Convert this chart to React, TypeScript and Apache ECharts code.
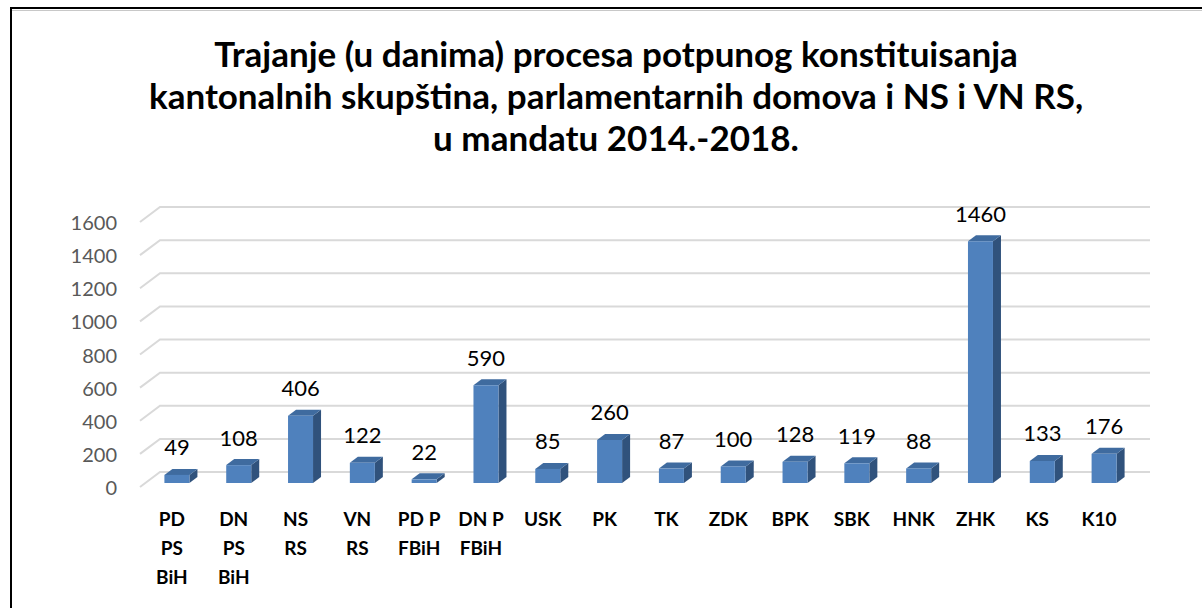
import React, { useEffect, useRef } from "react";
import * as echarts from "echarts";

const categories = [
  "PD\nPS\nBiH", "DN\nPS\nBiH", "NS\nRS", "VN\nRS", "PD P\nFBiH", "DN P\nFBiH",
  "USK", "PK", "TK", "ZDK", "BPK", "SBK", "HNK", "ZHK", "KS", "K10",
];
const values = [49, 108, 406, 122, 22, 590, 85, 260, 87, 100, 128, 119, 88, 1460, 133, 176];
const yTicks = [0, 200, 400, 600, 800, 1000, 1200, 1400, 1600];
const titleText =
  "Trajanje (u danima) procesa potpunog konstituisanja\nkantonalnih skupština, parlamentarnih domova i NS i VN RS,\nu mandatu 2014.-2018.";

const FONT = "Lato, 'Open Sans', sans-serif";

export default function App() {
  const ref = useRef<HTMLDivElement>(null);
  useEffect(() => {
    if (!ref.current) return;
    const chart = echarts.init(ref.current, null, { renderer: "svg" });
    const WALL_DX = 20, WALL_DY = -15;
    const option: any = {
      animation: false,
      backgroundColor: "#ffffff",
      textStyle: { fontFamily: FONT },
      title: {
        text: titleText,
        left: 611,
        top: 27,
        textAlign: "center",
        textStyle: { fontFamily: FONT, fontSize: 35, fontWeight: "bold", color: "#000", lineHeight: 42 },
      },
      graphic: [
        { type: "rect", shape: { x: 11, y: 8, width: 1250, height: 700 }, style: { fill: "none", stroke: "#000", lineWidth: 2 }, z: 100 },
        { type: "line", shape: { x1: 12, y1: 10.5, x2: 1202, y2: 10.5 }, style: { stroke: "#c8c8c8", lineWidth: 1 }, z: 100 },
      ],
      grid: { left: 141, right: 72, top: 222, bottom: 121, containLabel: false },
      xAxis: {
        type: "category",
        data: categories,
        axisLine: { show: false },
        axisTick: { show: false },
        axisLabel: {
          interval: 0,
          margin: 17,
          color: "#000",
          fontFamily: FONT,
          fontSize: 19,
          fontWeight: "bold",
          lineHeight: 29,
        },
      },
      yAxis: {
        type: "value",
        min: 0,
        max: 1600,
        interval: 200,
        axisLine: { show: false },
        axisTick: { show: false },
        splitLine: { show: false },
        axisLabel: {
          color: "#595959",
          fontFamily: FONT,
          fontSize: 20,
          margin: 24,
          formatter: (v: number) => String(v),
        },
      },
      series: [
        {
          type: "custom",
          silent: true,
          z: 1,
          data: yTicks.map((t) => [0, t]),
          encode: { x: 0, y: 1 },
          renderItem: (params: any, api: any) => {
            const cs = params.coordSys;
            const y = api.coord([0, api.value(1)])[1];
            const x0 = cs.x - 1;
            return {
              type: "polyline",
              shape: {
                points: [
                  [x0, y],
                  [x0 + WALL_DX, y + WALL_DY],
                  [cs.x + cs.width + WALL_DX, y + WALL_DY],
                ],
              },
              style: { stroke: "#d9d9d9", lineWidth: 2, fill: "none" },
            };
          },
        },
        {
          type: "custom",
          z: 5,
          data: values.map((v, i) => [i, v]),
          encode: { x: 0, y: 1 },
          renderItem: (params: any, api: any) => {
            const idx = api.value(0);
            const v = api.value(1);
            const base = api.coord([idx, 0]);
            const top = api.coord([idx, v]);
            const bw = 25, ox = 5, oy = -4, dx = 8, dy = -6;
            const cx = base[0] + ox;
            const yb = base[1] + oy;
            const yt = top[1] + oy;
            const xl = cx - bw / 2, xr = cx + bw / 2;
            return {
              type: "group",
              children: [
                {
                  type: "polygon",
                  shape: { points: [[xr, yt], [xr + dx, yt + dy], [xr + dx, yb + dy], [xr, yb]] },
                  style: { fill: "#30527c" },
                },
                {
                  type: "polygon",
                  shape: { points: [[xl, yt], [xl + dx, yt + dy], [xr + dx, yt + dy], [xr, yt]] },
                  style: { fill: "#3f6b9f" },
                },
                {
                  type: "rect",
                  shape: { x: xl, y: yt, width: bw, height: yb - yt },
                  style: { fill: "#4f81bd" },
                },
                {
                  type: "text",
                  x: cx,
                  y: yt - 28,
                  style: {
                    text: String(v),
                    fontFamily: FONT,
                    fontSize: 22,
                    fill: "#000",
                    align: "center",
                    verticalAlign: "middle",
                  },
                },
              ],
            };
          },
        },
      ],
    };
    chart.setOption(option);
    return () => chart.dispose();
  }, []);
  return (
    <div
      ref={ref}
      style={{ position: "fixed", left: 0, top: 0, width: 1202, height: 608, background: "#fff" }}
    />
  );
}
